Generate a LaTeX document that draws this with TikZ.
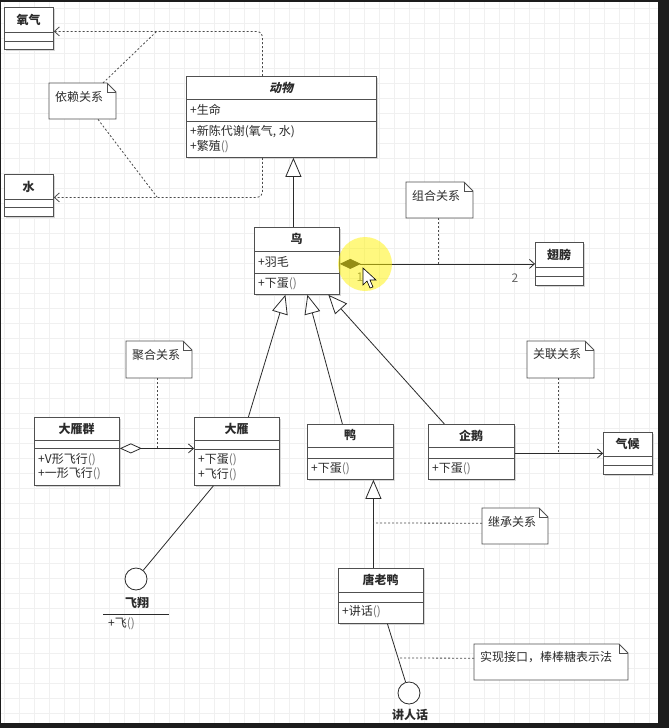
\documentclass[tikz,border=0pt]{standalone}
\usepackage{fontspec}
\setmainfont{Noto Sans CJK SC}
\newfontfamily\slantcjk{Noto Sans CJK SC}[FakeSlant=0.22]
\usetikzlibrary{arrows.meta,calc}
\definecolor{ink}{HTML}{2B2B2B}
\definecolor{boxc}{HTML}{505050}
\definecolor{gridc}{HTML}{F0F0F0}
\definecolor{framec}{HTML}{1C1C1C}
\newcommand\grayparens{{\color{black!55}()}}
\newcommand\umlbox[8]{%
  \fill[black!16] (#2+2,#3+2) rectangle ++(#4,#5);
  \node[clsbox, minimum width=#4pt, minimum height=#5pt, anchor=north west] (#1) at (#2,#3) {};
  \draw[sepline] (#2,#3+#6) -- ++(#4,0) (#2,#3+#7) -- ++(#4,0);
  \node[ttl] (#1-t) at (#2+#4/2,#3+#6/2) {#8};
}
\newcommand\umlnote[6]{%
  \node[inner sep=0pt, minimum width=#4pt, minimum height=#5pt, anchor=north west] (#1) at (#2,#3) {};
  \draw[noteline] (#2,#3) -- (#2+#4-9,#3) -- (#2+#4,#3+9) -- (#2+#4,#3+#5) -- (#2,#3+#5) -- cycle;
  \draw[noteline, fill=none] (#2+#4-9,#3) -- (#2+#4-9,#3+9) -- (#2+#4,#3+9);
  \node[mem] (#1-x) at (#2+6,#3+13.5) {#6};
}
\begin{document}
\begin{tikzpicture}[x=1pt,y=-1pt,
  every node/.style={font=\fontsize{12}{14}\selectfont, text=ink},
  clsbox/.style={draw=boxc, line width=0.8pt, fill=white, inner sep=0pt, rectangle},
  sepline/.style={draw=boxc, line width=0.8pt},
  ttl/.style={font=\fontsize{12}{14}\selectfont\bfseries, inner sep=0pt},
  mem/.style={anchor=west, inner sep=0pt},
  noteline/.style={draw=boxc, line width=0.8pt, fill=white},
  dashc/.style={draw=ink!85, line width=0.8pt, dash pattern=on 2pt off 2pt},
  dep/.style={dashc, rounded corners=5pt, -{Straight Barb[length=5pt,width=9pt]}},
  solidc/.style={draw=ink, line width=0.8pt},
  assoc/.style={solidc, -{Straight Barb[length=5pt,width=9pt]}},
  inh/.style={solidc, -{Triangle[open,length=19pt,width=16pt,fill=white]}},
  lolly/.style={circle, draw=ink, line width=0.8pt, fill=white, minimum size=22pt, inner sep=0pt},
  lbl/.style={text=black!60, inner sep=0pt},
]
\useasboundingbox (0,0) rectangle (669,728);
% screen frame and canvas
\fill[framec] (0,0) rectangle (669,728);
\fill[white] (1,2) rectangle (658,723);
\foreach \i in {0,...,43} \draw[gridc, line width=0.5pt] (4+15*\i,2) -- (4+15*\i,723);
\foreach \j in {0,...,47} \draw[gridc, line width=0.5pt] (1,8+15*\j) -- (658,8+15*\j);

% classes
\umlbox{oxy}{4}{7}{49}{42}{25}{34}{氧气}
\umlbox{water}{4}{174}{49}{42}{25}{33}{水}
\umlbox{animal}{186}{76}{190}{81}{23}{45}{\slantcjk\bfseries 动物}
\node[mem] (a1) at (190,110) {+生命};
\node[mem] (a2) at (190,132) {+新陈代谢(氧气, 水)};
\node[mem] (a3) at (190,147) {+繁殖\grayparens};
\umlbox{bird}{254}{227}{85}{67}{24}{46}{鸟}
\node[mem] (b1) at (258,262) {+羽毛};
\node[mem] (b2) at (258,284) {+下蛋\grayparens};
\umlbox{wing}{535}{242}{48}{43}{25}{34}{翅膀}
\umlbox{flock}{34}{417}{85}{68}{23}{31}{大雁群}
\node[mem] (f1) at (38,460) {+V形飞行\grayparens};
\node[mem] (f2) at (38,474) {+一形飞行\grayparens};
\umlbox{goose}{194}{417}{85}{68}{23}{32}{大雁}
\node[mem] (g1) at (198,460) {+下蛋\grayparens};
\node[mem] (g2) at (198,475) {+飞行\grayparens};
\umlbox{duck}{307}{424}{86}{55}{23}{34}{鸭}
\node[mem] (d1) at (311,469) {+下蛋\grayparens};
\umlbox{penguin}{428}{424}{86}{55}{23}{34}{企鹅}
\node[mem] (p1) at (432,469) {+下蛋\grayparens};
\umlbox{climate}{603}{432}{49}{42}{24}{33}{气候}
\umlbox{donald}{338}{568}{85}{55}{24}{34}{唐老鸭}
\node[mem] (t1) at (342,612) {+讲话\grayparens};

% notes
\umlnote{n1}{49}{83}{67}{36}{依赖关系}
\umlnote{n2}{406}{182}{67}{36}{组合关系}
\umlnote{n3}{126}{341}{66}{37}{聚合关系}
\umlnote{n4}{527}{341}{67}{37}{关联关系}
\umlnote{n5}{482}{508}{66}{36}{继承关系}
\umlnote{n6}{474}{644}{154}{36}{实现接口，棒棒糖表示法}

% dependencies
\draw[dep] ([xshift=-19pt]animal.north) |- ([yshift=-3pt]oxy.east);
\draw[dep] ([xshift=-19pt]animal.south) |- ([yshift=-2pt]water.east);
\coordinate (dp1) at (157,31);
\coordinate (dp2) at (157,197);
\draw[dashc] ([xshift=54pt]n1.north west) -- (dp1);
\draw[dashc] ([xshift=49pt]n1.south west) -- (dp2);

% generalisation bird -> animal
\coordinate (bn) at ([xshift=-3.5pt]bird.north);
\draw[inh] (bn) -- (bn |- animal.south);

% composition bird -> wing
\draw[solidc, {Diamond[length=21pt,width=10pt,fill=ink]}-{Straight Barb[length=5pt,width=9pt]}] (bird.east |- wing.west) -- (wing.west);
\node[lbl] (m1) at (360,277) {1};
\node[lbl] (m2) at (515,278) {2};
\coordinate (cp) at (438,264);
\draw[dashc] ([xshift=32pt]n2.south west) -- (cp);

% aggregation flock -> goose
\draw[solidc, {Diamond[open,fill=white,length=22pt,width=10pt]}-{Straight Barb[length=5pt,width=9pt]}] ([yshift=3pt]flock.east) -- ([yshift=3pt]goose.west);
\coordinate (ap) at (157,448);
\draw[dashc] ([xshift=31pt]n3.south west) -- (ap);

% generalisations to bird
\draw[inh] ([xshift=11.5pt]goose.north) -- ([xshift=-11.5pt]bird.south);
\draw[inh] ([xshift=-8pt]duck.north) -- ([xshift=10.5pt]bird.south);
\draw[inh] ([xshift=-27pt]penguin.north) -- ([xshift=31.5pt]bird.south);

% association penguin -> climate
\draw[assoc] (penguin.east |- climate.west) -- (climate.west);
\coordinate (asp) at (558,453);
\draw[dashc] ([xshift=31pt]n4.south west) -- (asp);

% donald -> duck
\coordinate (dk) at ([xshift=-7.5pt]donald.north);
\draw[inh] (dk) -- (dk |- duck.south);
\coordinate (ip) at (373,523);
\draw[dashc] ([yshift=3pt]n5.west) -- (ip);

% lollipop fly
\node[lolly] (fly) at (136,579) {};
\draw[solidc] ([xshift=-23.5pt]goose.south) -- (fly);
\node[ttl] (flyl) at (137,603) {飞翔};
\draw[solidc] ([xshift=-34pt,yshift=-11pt]flyl.center) -- ([xshift=32pt,yshift=-11pt]flyl.center);
\node[mem] (flyop) at (108,624) {+飞\grayparens};

% lollipop talk
\node[lolly] (talk) at (409,693) {};
\draw[solidc] ([xshift=6.5pt]donald.south) -- (talk);
\node[ttl] (talkl) at (410,715) {讲人话};
\coordinate (rp) at (399,658);
\draw[dashc] ([yshift=4pt]n6.west) -- (rp);

% cursor highlight
\fill[yellow, opacity=0.5] (365,264) circle (27pt);
\filldraw[fill=white, draw=black, line width=0.6pt] (363,268) -- (363,285) -- (367,281) -- (370,288) -- (373,287) -- (370,280) -- (376,280) -- cycle;
\end{tikzpicture}
\end{document}
